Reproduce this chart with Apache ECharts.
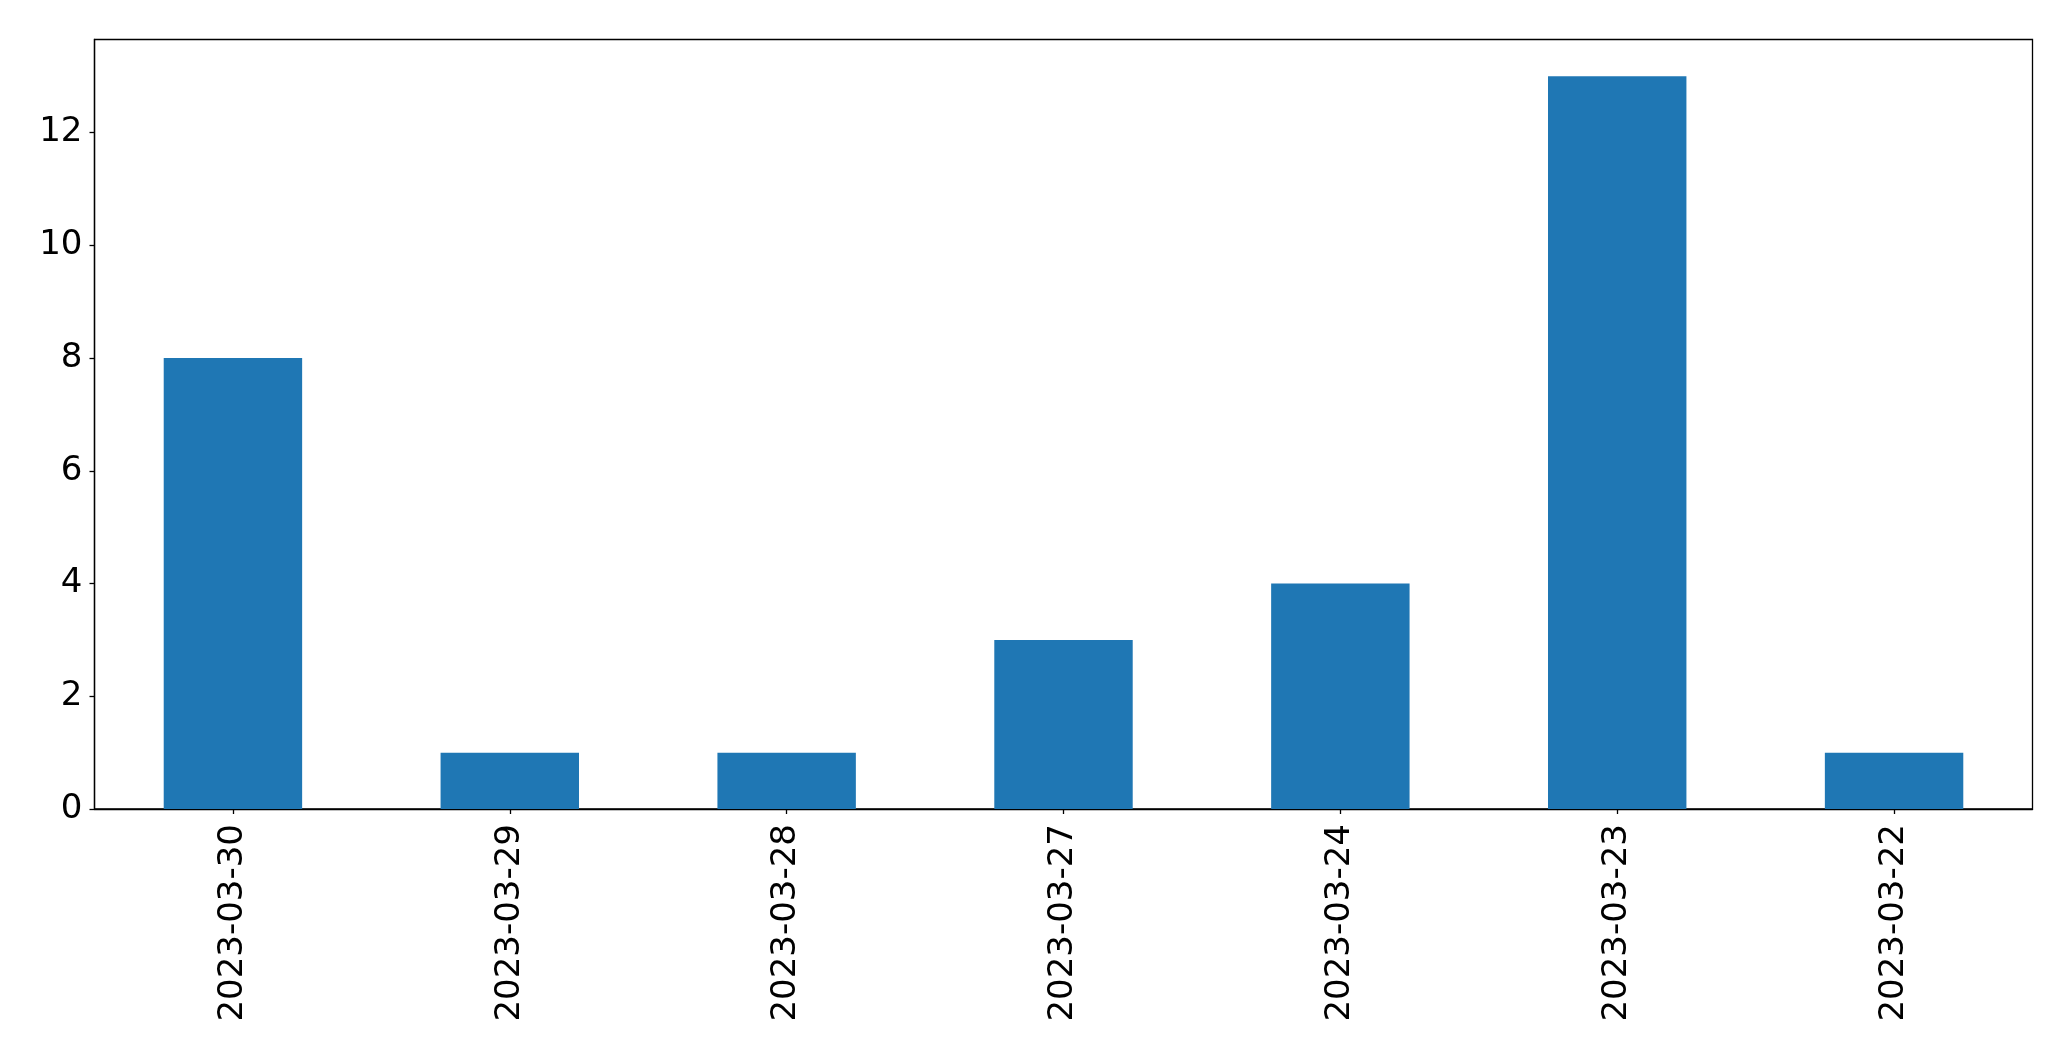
<!DOCTYPE html>
<html>
<head>
<meta charset="utf-8">
<script src="https://cdn.jsdelivr.net/npm/echarts@6/dist/echarts.min.js"></script>
<style>
html,body{margin:0;padding:0;background:#fff;}
#chart{width:2071px;height:1061px;}
</style>
</head>
<body>
<div id="chart"></div>
<script>
const categories = ['2023-03-30','2023-03-29','2023-03-28','2023-03-27','2023-03-24','2023-03-23','2023-03-22'];
const values = [8, 1, 1, 3, 4, 13, 1];
const yTicks = [0, 2, 4, 6, 8, 10, 12];

const chart = echarts.init(document.getElementById('chart'), null, {renderer: 'canvas'});
const font = 'DejaVu Sans';
chart.setOption({
  animation: false,
  backgroundColor: '#ffffff',
  grid: {
    left: 94.5, top: 39.5, right: 38.5, bottom: 252,
    show: true, borderColor: '#000', borderWidth: 1.3, backgroundColor: 'transparent'
  },
  xAxis: {
    type: 'category',
    data: categories,
    axisLine: {show: true, lineStyle: {color: '#000', width: 1.3}},
    axisTick: {show: true, alignWithLabel: true, length: 5, lineStyle: {color: '#000', width: 1.3}},
    axisLabel: {rotate: 90, margin: 15, color: '#000', fontFamily: font, fontSize: 34, interval: 0},
    splitLine: {show: false}
  },
  yAxis: {
    type: 'value',
    min: 0, max: 13.65, interval: 2,
    axisLine: {show: true, lineStyle: {color: '#000', width: 1.3}},
    axisTick: {show: true, length: 5, lineStyle: {color: '#000', width: 1.3}},
    axisLabel: {
      margin: 12, color: '#000', fontFamily: font, fontSize: 34,
      showMaxLabel: false,
      formatter: function (v) { return yTicks.indexOf(v) >= 0 ? String(v) : ''; }
    },
    splitLine: {show: false}
  },
  series: [{
    type: 'bar',
    data: values,
    barWidth: '50%',
    itemStyle: {color: '#1f77b4'}
  }]
});
</script>
</body>
</html>
